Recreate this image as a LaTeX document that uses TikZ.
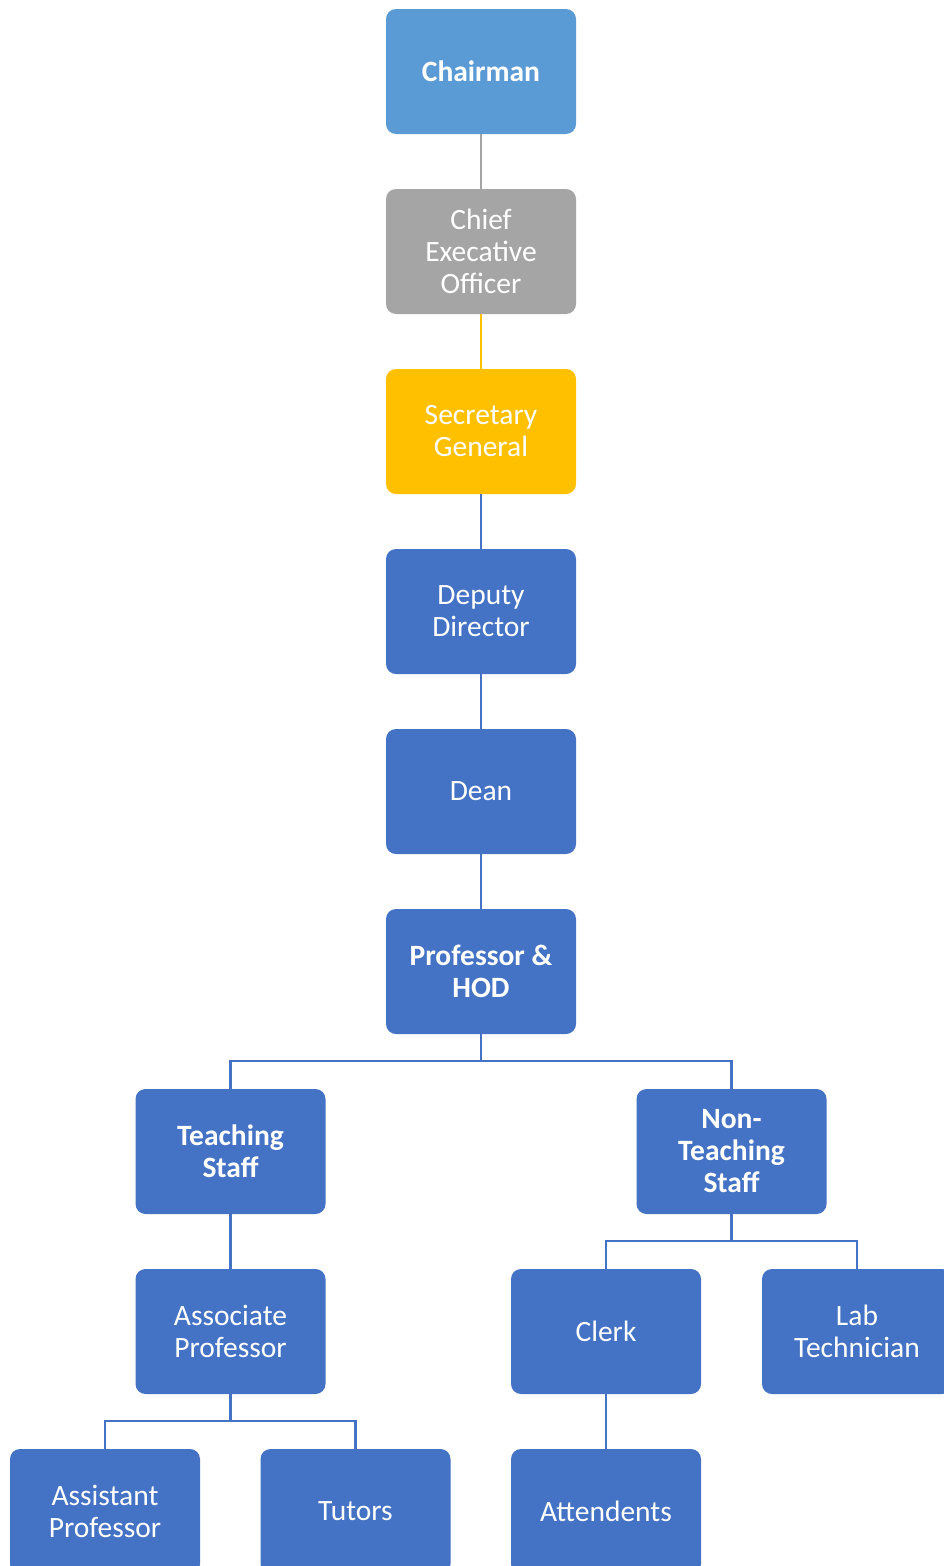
\documentclass[tikz,border=0pt]{standalone}
\usepackage{fontspec}
\setmainfont{Carlito}
\definecolor{cblue}{HTML}{4472C4}
\definecolor{clight}{HTML}{5B9BD5}
\definecolor{cgray}{HTML}{A5A5A5}
\definecolor{cgold}{HTML}{FFC000}
\newcommand{\boxfont}{\fontsize{29.5}{32}\selectfont}
\begin{document}
\begin{tikzpicture}[x=1pt,y=-1pt,
  box/.style={rectangle, rounded corners=10pt, fill=cblue, text=white,
    minimum width=190pt, minimum height=125pt, inner sep=0pt,
    align=center, font=\boxfont},
  bbox/.style={box, font=\boxfont\bfseries},
  link/.style={draw=cblue, line width=2.5pt}]
\useasboundingbox (0,0) rectangle (943,1566);
\node[bbox, fill=clight] (ch) at (481,71.5) {Chairman};
\node[box, fill=cgray] (ceo) at (481,251.5) {Chief\\Execative\\Officer};
\node[box, fill=cgold] (sg) at (481,431.5) {Secretary\\General};
\node[box] (dd) at (481,611.5) {Deputy\\Director};
\node[box] (dean) at (481,791.5) {Dean};
\node[bbox] (hod) at (481,971.5) {Professor \&\\HOD};
\node[bbox] (ts) at (230.5,1151.5) {Teaching\\Staff};
\node[bbox] (nts) at (731.5,1151.5) {Non-\\Teaching\\Staff};
\node[box] (ap) at (230.5,1331.5) {Associate\\Professor};
\node[box] (clerk) at (606,1331.5) {Clerk};
\node[box] (lab) at (857,1331.5) {Lab\\Technician};
\node[box] (asp) at (105,1511.5) {Assistant\\Professor};
\node[box] (tut) at (355.5,1511.5) {Tutors};
\node[box] (att) at (606,1511.5) {Attendents};
\coordinate (j1) at (481,1061);
\coordinate (j2) at (731.5,1241);
\coordinate (j3) at (230.5,1421);
\draw[link, draw=cgray] (ch) -- (ceo);
\draw[link, draw=cgold] (ceo) -- (sg);
\draw[link] (sg) -- (dd);
\draw[link] (dd) -- (dean);
\draw[link] (dean) -- (hod);
\draw[link] (hod) -- (j1);
\draw[link] (ts.north) |- (j1) -| (nts.north);
\draw[link] (nts) -- (j2);
\draw[link] (clerk.north) |- (j2) -| (lab.north);
\draw[link] (ts) -- (ap);
\draw[link] (ap) -- (j3);
\draw[link] (asp.north) |- (j3) -| (tut.north);
\draw[link] (clerk) -- (att);
\end{tikzpicture}
\end{document}
